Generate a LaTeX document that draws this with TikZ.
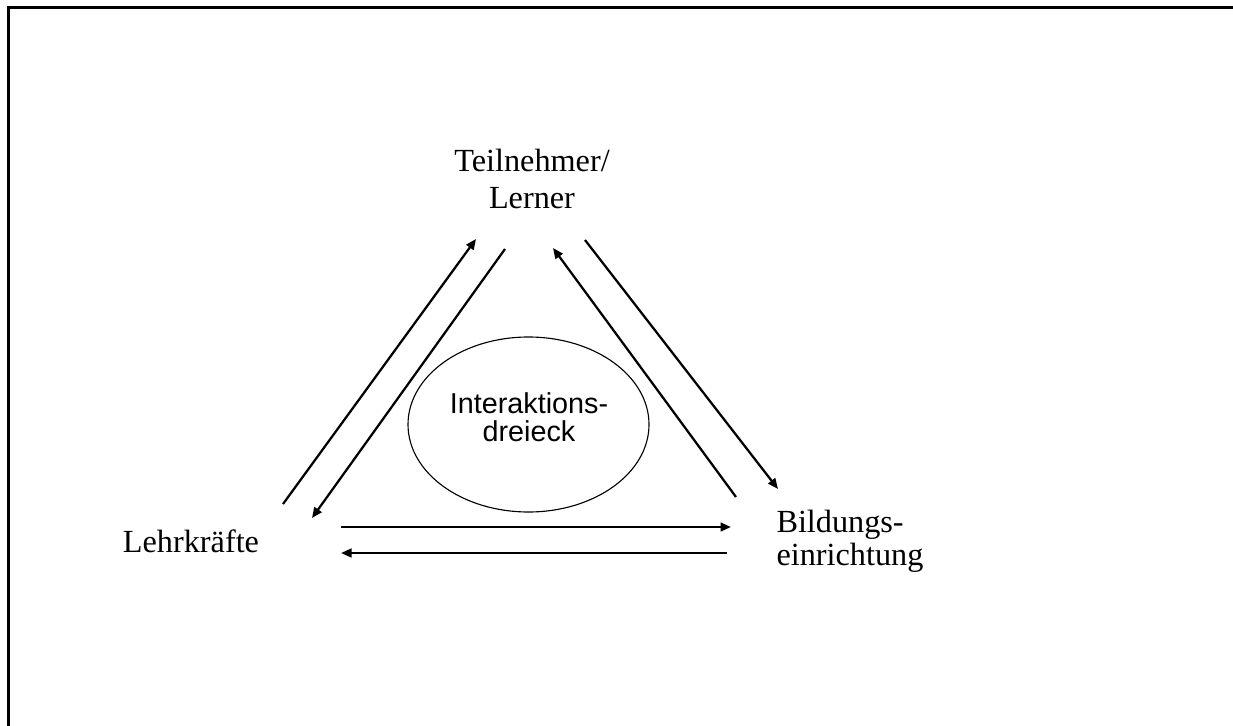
\documentclass[tikz,border=0pt]{standalone}
\usepackage{fontspec}
\setmainfont{Liberation Serif}
\setsansfont{Liberation Sans}
\usetikzlibrary{arrows.meta}
\usetikzlibrary{shapes.geometric}
\tikzset{%
  pfeil/.style={-{Triangle[length=4.2pt,width=3.5pt]},line width=0.9pt},
  ecke/.style={inner sep=0pt,align=center},
}

\begin{document}
\begin{tikzpicture}[x=0.4pt,y=-0.4pt]
              \useasboundingbox (0,0) rectangle (1233,726);
              \draw[line width=1.2pt] (8,726) -- (8,8) -- (1233,8);
              \node[ecke,anchor=north,font=\fontsize{12.9}{14.8}\selectfont] (T) at (532,149) {Teilnehmer/\\Lerner};
              \node[ecke,anchor=base,font=\fontsize{12.9}{14.8}\selectfont] (L) at (191,552) {Lehrkr\"afte};
              \node[ecke,anchor=north west,align=left,font=\fontsize{12.9}{13.2}\selectfont] (B) at (776,510) {Bildungs-\\einrichtung};
              \node[draw,ellipse,line width=0.45pt,minimum width=96.4pt,minimum height=70pt] (E) at (528.5,424.5) {};
              \node[ecke,anchor=north,font=\sffamily\fontsize{11.5}{11.4}\selectfont] (I) at (529,392) {Interaktions-\\dreieck};
              \coordinate (LT1) at (283,504);
              \coordinate (LT2) at (476,239);
              \coordinate (TL1) at (505,249);
              \coordinate (TL2) at (312,518);
              \coordinate (BT1) at (736,497);
              \coordinate (BT2) at (553,248);
              \coordinate (TB1) at (585,240);
              \coordinate (TB2) at (778,489);
              \coordinate (LB1) at (341,527);
              \coordinate (LB2) at (731,527);
              \coordinate (BL1) at (727,553);
              \coordinate (BL2) at (341,553);
              \draw[pfeil] (LT1) -- (LT2);
              \draw[pfeil] (TL1) -- (TL2);
              \draw[pfeil] (BT1) -- (BT2);
              \draw[pfeil] (TB1) -- (TB2);
              \draw[pfeil] (LB1) -- (LB2);
              \draw[pfeil] (BL1) -- (BL2);
          \end{tikzpicture}
\end{document}
